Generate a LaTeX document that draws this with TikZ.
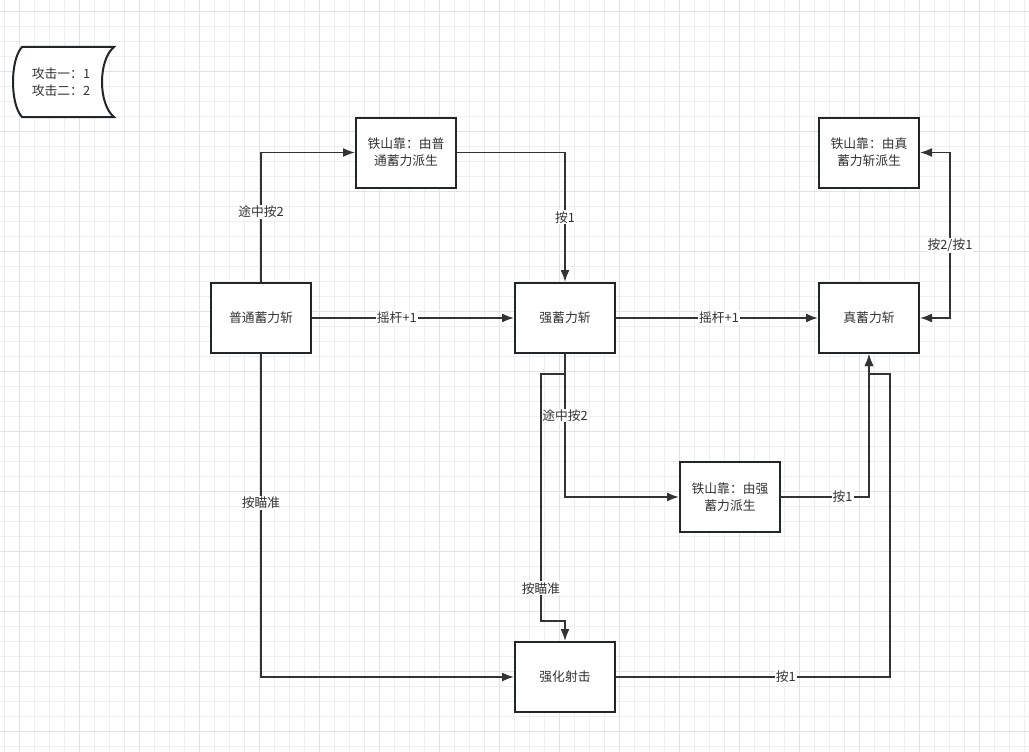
\documentclass[tikz,border=0pt]{standalone}
\usepackage{fontspec}
\newfontfamily\cjk{Noto Sans CJK SC}
\usetikzlibrary{arrows.meta,calc}
\definecolor{minorgrid}{HTML}{EFEFEF}
\definecolor{majorgrid}{HTML}{E2E2E2}
\definecolor{ink}{HTML}{333333}
\definecolor{boxline}{HTML}{22262B}
\tikzset{
  stepbox/.style={draw=boxline, line width=2pt, fill=white, minimum width=100pt, minimum height=70pt,
    inner sep=0pt, align=center, text=ink, font=\cjk\fontsize{12.8}{17}\selectfont},
  tip/.tip={Latex[length=12pt,width=9pt]},
  edge/.style={draw=ink, line width=1.7pt, -tip},
  lbl/.style={fill=white, inner sep=1pt, text=ink, font=\cjk\fontsize{12.8}{15}\selectfont}
}
\begin{document}
\begin{tikzpicture}[x=1pt,y=-1pt]
\useasboundingbox (0,0) rectangle (1029,752);
\fill[white] (0,0) rectangle (1029,752);
% grid
\foreach \i in {0,...,68} {
  \pgfmathsetmacro{\xx}{4.33+15*\i}
  \draw[minorgrid, line width=0.9pt] (\xx,0) -- (\xx,752);
}
\foreach \i in {0,...,49} {
  \pgfmathsetmacro{\yy}{11+15*\i}
  \draw[minorgrid, line width=0.9pt] (0,\yy) -- (1029,\yy);
}
\foreach \i in {0,...,16} {
  \pgfmathsetmacro{\xx}{19.33+60*\i}
  \draw[majorgrid, line width=0.9pt] (\xx,0) -- (\xx,752);
}
\foreach \i in {0,...,12} {
  \pgfmathsetmacro{\yy}{11+60*\i}
  \draw[majorgrid, line width=0.9pt] (0,\yy) -- (1029,\yy);
}
% legend (data storage shape)
\draw[boxline, line width=2pt, fill=white] (22,47) -- (114,47) .. controls (98,60) and (98,104) .. (114,117)
  -- (22,117) .. controls (10,104) and (10,60) .. (22,47) -- cycle;
\node[align=center, text=ink, font=\cjk\fontsize{12.8}{17}\selectfont] (legend) at (61,82.5) {攻击一：1\\攻击二：2};
% nodes
\node[stepbox] (pt) at (261,318) {普通蓄力斩};
\node[stepbox] (tsk1) at (406,152.5) {铁山靠：由普\\通蓄力派生};
\node[stepbox] (qx) at (565,318) {强蓄力斩};
\node[stepbox] (zx) at (869,318) {真蓄力斩};
\node[stepbox] (tsk3) at (869,152.5) {铁山靠：由真\\蓄力斩派生};
\node[stepbox] (tsk2) at (730,497) {铁山靠：由强\\蓄力派生};
\node[stepbox] (sj) at (565,677) {强化射击};
% edges
\draw[edge] (pt.north) |- node[lbl, pos=0.27] {途中按2} (tsk1.west);
\draw[edge] (tsk1.east) -| node[lbl, pos=0.75] {按1} (qx.north);
\draw[edge] (pt.east) -- node[lbl, pos=0.42] {摇杆+1} (qx.west);
\draw[edge] (qx.east) -- node[lbl, pos=0.51] {摇杆+1} (zx.west);
\draw[edge, tip-tip] (zx.east) -- ++(30,0) |- node[lbl, pos=0.22] {按2/按1} (tsk3.east);
\draw[edge] (qx.south) |- node[lbl, pos=0.215] {途中按2} (tsk2.west);
\draw[edge] (tsk2.east) -| node[lbl, pos=0.35] {按1} (zx.south);
\draw[edge] (qx.south) -- ++(0,20) -- ++(-24,0) |- node[lbl, pos=0.434] {按瞄准} ($(sj.north)+(0,-20)$) -- (sj.north);
\draw[edge] (pt.south) |- node[lbl, pos=0.23] {按瞄准} (sj.west);
\draw[edge] (sj.east) -- node[lbl, pos=0.62] {按1} ++(274,0) |- ($(zx.south)+(0,20)$) -- (zx.south);
\end{tikzpicture}
\end{document}
